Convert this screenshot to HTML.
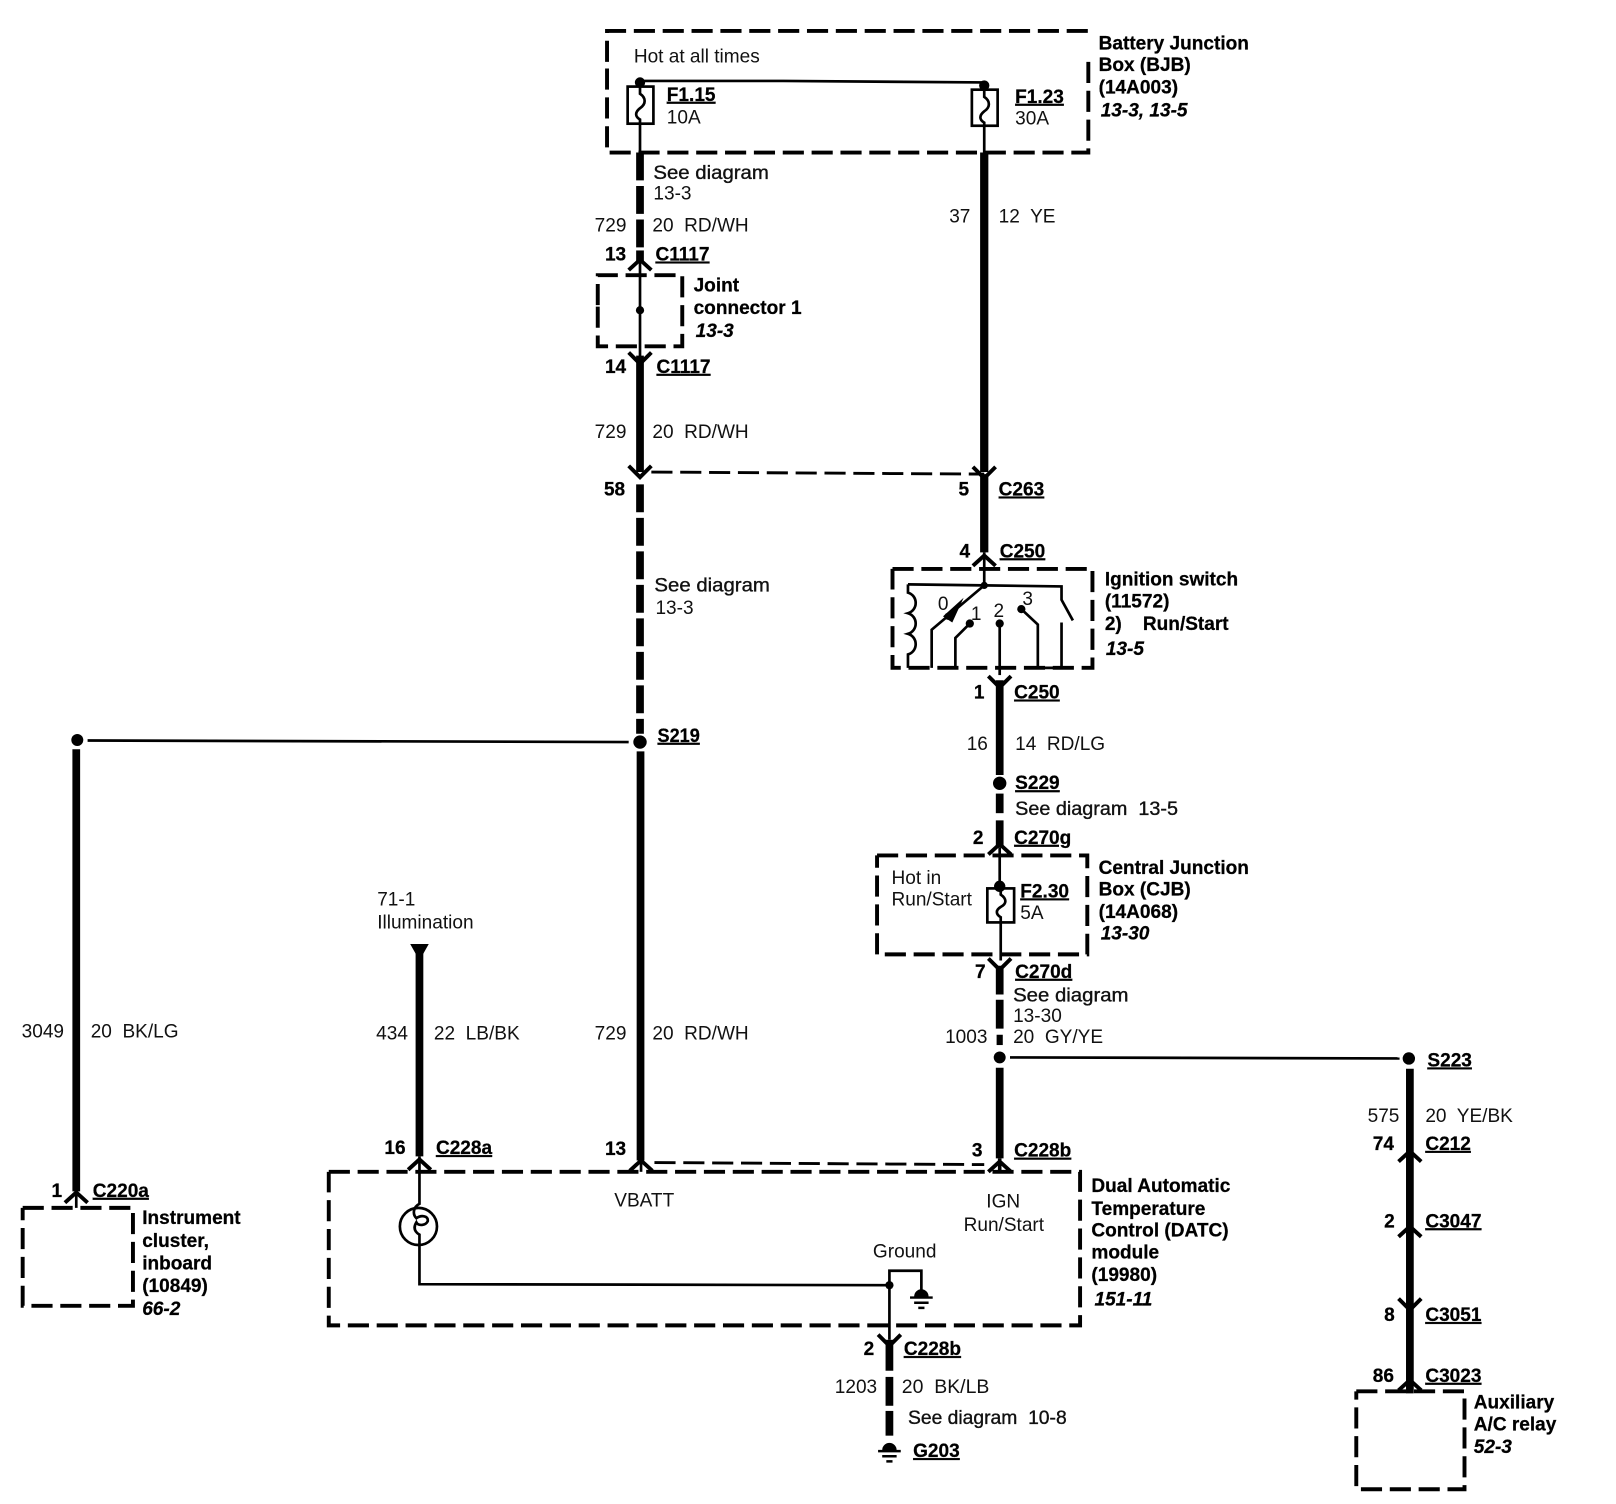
<!DOCTYPE html>
<html>
<head>
<meta charset="utf-8">
<style>
html,body{margin:0;padding:0;background:#fff;width:1616px;height:1504px;overflow:hidden}
svg{display:block}
text{font-family:"Liberation Sans",sans-serif;font-size:18.5px;fill:#111;white-space:pre}
.b{font-weight:bold;fill:#000;stroke:#000;stroke-width:.25}
.i{font-weight:bold;font-style:italic;fill:#000;stroke:#000;stroke-width:.25}
.u{font-weight:bold;fill:#000;stroke:#000;stroke-width:.25;text-decoration:underline}
.s{stroke:#111;stroke-width:.35}
.box{fill:none;stroke:#000;stroke-width:3.8;stroke-dasharray:20.5 7.5}
.thin{fill:none;stroke:#000;stroke-width:2.6}
.thick{fill:none;stroke:#000;stroke-width:7.5}
.dash{fill:none;stroke:#000;stroke-width:7.5;stroke-dasharray:27 5.5}
.td{fill:none;stroke:#000;stroke-width:2.8;stroke-dasharray:20.5 7.5}
.chev{fill:none;stroke:#000;stroke-width:3.8}
</style>
</head>
<body>
<svg xmlns="http://www.w3.org/2000/svg" width="1616" height="1504" viewBox="0 0 1568 1459.3">
<defs>
<path id="up" class="chev" d="M-11 8L0 -2L11 8"/>
<path id="dn" class="chev" d="M-11 -8L0 3L11 -8"/>
<g id="gnd"><path d="M-7 0a7 7 0 0 1 14 0z" fill="#000"/><path d="M-11 1H11M-7 6H7M-3 11H3" stroke="#000" stroke-width="2.4" fill="none"/></g>
</defs>
<rect width="1568" height="1460" fill="#fff"/>

<!-- boxes -->
<path class="box" d="M589 60V30H1056"/>
<path class="box" d="M1056 60V148H589V60"/>
<path class="box" d="M580 296V267H662V336H580V296"/>
<path class="box" d="M866 552H1060V648H866V552"/>
<path class="box" d="M851 830H1055V926H851V830"/>
<path class="box" d="M319 1137H1048V1286H319V1137"/>
<path class="box" d="M22 1172H129V1267H22V1172"/>
<path class="box" d="M1316 1350H1421V1445H1316V1350"/>

<!-- BJB internals -->
<path class="thin" d="M621 78.500L760 78.500L955 80"/>
<circle cx="621" cy="80" r="5" fill="#000"/>
<circle cx="955" cy="83" r="5" fill="#000"/>
<rect x="609" y="84" width="25" height="36" class="thin"/>
<rect x="943" y="87" width="25" height="35" class="thin"/>
<path class="thin" d="M621 84V91c6 4 6 10 0 14c-5 4 -5 8 0 11V148"/>
<path class="thin" d="M955 87V94c6 4 6 10 0 14c-5 4 -5 8 0 11V148"/>

<!-- left-centre wire -->
<path class="dash" d="M621 148V243"/>
<path class="thick" d="M621 243V254"/>
<use href="#up" x="621" y="254"/>
<path class="thin" d="M621 254V348"/>
<circle cx="621" cy="301" r="4" fill="#000"/>
<use href="#dn" x="621" y="350"/>
<path class="thick" d="M621 345V458"/>
<use href="#dn" x="621" y="460"/>
<path class="td" d="M632 458L955 460"/>
<path class="dash" d="M621 470V712"/>
<circle cx="621" cy="720" r="6.500" fill="#000"/>
<path class="thick" d="M621.500 729V1126"/>
<use href="#up" x="622" y="1128"/>
<path class="thin" d="M622 1126V1137"/>
<path class="td" d="M635 1128L955 1130"/>

<!-- S219 branch -->
<circle cx="75" cy="718" r="5.800" fill="#000"/>
<path class="thin" d="M85 718.500L610 720"/>
<path class="thick" d="M74 727V1156"/>
<use href="#up" x="74" y="1159"/>
<path class="thin" d="M74 1156V1172" stroke-width="3"/>

<!-- right main wire -->
<path class="thick" style="stroke-width:8" d="M955 148V458"/>
<use href="#dn" x="955" y="461"/>
<path class="thick" style="stroke-width:8" d="M955 460V536"/>
<use href="#up" x="955" y="541"/>
<path class="thin" d="M955 536V568"/>

<!-- ignition switch -->
<circle cx="955" cy="568" r="3.500" fill="#000"/>
<path class="thin" d="M881 567L955 568L1030 569V582L1041 602"/>
<path class="thin" d="M881 567c0 4 0 6 0 8c10 3 10 17 0 20c10 3 10 17 0 20c10 3 10 17 0 20V648"/>
<path class="thin" d="M955 568L904 611V648"/>
<path d="M935 580L915 598L924 604z" fill="#000"/>
<circle cx="920" cy="598" r="3.500" fill="#000"/>
<circle cx="941" cy="605" r="4" fill="#000"/>
<path class="thin" d="M941 605L927 619V648"/>
<circle cx="970" cy="605" r="4" fill="#000"/>
<path class="thin" d="M970 605V655"/>
<circle cx="991" cy="591" r="4" fill="#000"/>
<path class="thin" d="M991 591L1007 606V648H1030V604"/>
<use href="#dn" x="970" y="664"/>
<path class="thick" d="M970 660V752"/>
<circle cx="970" cy="760" r="6.500" fill="#000"/>
<path class="thick" d="M970 770V789"/>
<path class="thick" d="M970 796V822"/>
<use href="#up" x="970" y="821"/>
<path class="thin" d="M970 822V858"/>
<circle cx="970" cy="860" r="5.500" fill="#000"/>
<rect x="958" y="862" width="26" height="33" class="thin"/>
<path class="thin" d="M971 862V868c6 4 6 9 0 12c-5 3 -5 7 0 10V932"/>
<use href="#dn" x="970" y="938"/>
<path class="thick" d="M970 937V965"/>
<path class="thick" d="M970 970V998"/>
<path class="thick" style="stroke-width:6" d="M970 1004V1014"/>
<circle cx="970" cy="1026" r="5.800" fill="#000"/>
<path class="thin" d="M980 1026L1358 1027"/>
<path class="thick" d="M970 1036V1124"/>
<use href="#up" x="970" y="1129"/>
<path class="thin" style="stroke-width:3.500" d="M970 1124V1137"/>

<!-- S223 branch -->
<circle cx="1367" cy="1027" r="6" fill="#000"/>
<path class="thick" d="M1368 1037V1352"/>
<use href="#up" x="1368" y="1119"/>
<use href="#up" x="1368" y="1192"/>
<use href="#dn" x="1368" y="1268"/>
<use href="#up" x="1368" y="1341"/>

<!-- illumination wire -->
<path d="M398 916H416L407 932z" fill="#000"/>
<path class="thick" d="M407 925V1122"/>
<use href="#up" x="407" y="1127"/>
<circle cx="406" cy="1190" r="18" class="thin"/>
<path class="thin" d="M407 1122V1168c-6 3 -7 10 -3 14c4 -3 12 -3 11 3c-2 4 -9 5 -11 1c-3 5 -2 9 3 12V1246L863 1247"/>
<circle cx="863" cy="1247" r="4" fill="#000"/>
<path class="thin" d="M863 1300V1233H894V1252"/>
<use href="#gnd" x="894" y="1258"/>
<use href="#dn" x="863" y="1303"/>
<path class="thick" d="M863 1300V1330"/>
<path class="thick" d="M863 1336V1364"/>
<path class="thick" d="M863 1369V1393"/>
<use href="#gnd" x="863" y="1407"/>

<!-- text -->
<g transform="translate(0,.8)">
<text x="615" y="60">Hot at all times</text>
<text x="647" y="97" class="u">F1.15</text>
<text x="647" y="119">10A</text>
<text x="985" y="99" class="u">F1.23</text>
<text x="985" y="120">30A</text>
<text x="1066" y="47" class="b">Battery Junction</text>
<text x="1066" y="68" class="b">Box (BJB)</text>
<text x="1066" y="90" class="b">(14A003)</text>
<text x="1068" y="112" class="i">13-3, 13-5</text>

<text x="634" y="173" class="s" textLength="112" lengthAdjust="spacingAndGlyphs">See diagram</text>
<text x="634" y="193">13-3</text>
<text x="577" y="224">729</text>
<text x="633" y="224">20  RD/WH</text>
<text x="587" y="252" class="b">13</text>
<text x="636" y="252" class="u">C1117</text>
<text x="921" y="215">37</text>
<text x="969" y="215">12  YE</text>
<text x="673" y="282" class="b">Joint</text>
<text x="673" y="304" class="b">connector 1</text>
<text x="675" y="326" class="i">13-3</text>
<text x="587" y="361" class="b">14</text>
<text x="637" y="361" class="u">C1117</text>
<text x="577" y="424">729</text>
<text x="633" y="424">20  RD/WH</text>
<text x="586" y="480" class="b">58</text>
<text x="930" y="480" class="b">5</text>
<text x="969" y="480" class="u">C263</text>
<text x="931" y="540" class="b">4</text>
<text x="970" y="540" class="u">C250</text>
<text x="635" y="573" class="s" textLength="112" lengthAdjust="spacingAndGlyphs">See diagram</text>
<text x="636" y="595">13-3</text>
<text x="638" y="719" class="u" textLength="41" lengthAdjust="spacingAndGlyphs">S219</text>

<text x="1072" y="567.500" class="b">Ignition switch</text>
<text x="1072" y="588.500" class="b">(11572)</text>
<text x="1072" y="610.500" class="b">2)    Run/Start</text>
<text x="1073" y="634.500" class="i">13-5</text>
<text x="910" y="591">0</text>
<text x="942" y="601">1</text>
<text x="964" y="598">2</text>
<text x="992" y="586">3</text>

<text x="945" y="677" class="b">1</text>
<text x="984" y="677" class="u">C250</text>
<text x="938" y="727">16</text>
<text x="985" y="727">14  RD/LG</text>
<text x="985" y="765" class="u">S229</text>
<text x="985" y="790" class="s" textLength="158" lengthAdjust="spacingAndGlyphs">See diagram  13-5</text>
<text x="944" y="818" class="b">2</text>
<text x="984" y="818" class="u">C270g</text>
<text x="865" y="857">Hot in</text>
<text x="865" y="878">Run/Start</text>
<text x="990" y="870" class="u">F2.30</text>
<text x="990" y="891">5A</text>
<text x="1066" y="847" class="b">Central Junction</text>
<text x="1066" y="868" class="b">Box (CJB)</text>
<text x="1066" y="890" class="b">(14A068)</text>
<text x="1068" y="911" class="i">13-30</text>
<text x="946" y="948" class="b">7</text>
<text x="985" y="948" class="u">C270d</text>
<text x="983" y="971" class="s" textLength="112" lengthAdjust="spacingAndGlyphs">See diagram</text>
<text x="983" y="991">13-30</text>
<text x="917" y="1011">1003</text>
<text x="983" y="1011">20  GY/YE</text>

<text x="1385" y="1034" class="u">S223</text>
<text x="1327" y="1088">575</text>
<text x="1383" y="1088">20  YE/BK</text>
<text x="1332" y="1115" class="b">74</text>
<text x="1383" y="1115" class="u">C212</text>
<text x="1343" y="1190" class="b">2</text>
<text x="1383" y="1190" class="u">C3047</text>
<text x="1343" y="1281" class="b">8</text>
<text x="1383" y="1281" class="u">C3051</text>
<text x="1332" y="1340" class="b">86</text>
<text x="1383" y="1340" class="u">C3023</text>
<text x="1430" y="1366" class="b">Auxiliary</text>
<text x="1430" y="1387" class="b">A/C relay</text>
<text x="1430" y="1409" class="i">52-3</text>

<text x="366" y="878">71-1</text>
<text x="366" y="900">Illumination</text>
<text x="365" y="1008">434</text>
<text x="421" y="1008">22  LB/BK</text>
<text x="577" y="1008">729</text>
<text x="633" y="1008">20  RD/WH</text>
<text x="21" y="1006">3049</text>
<text x="88" y="1006">20  BK/LG</text>
<text x="373" y="1119" class="b">16</text>
<text x="423" y="1119" class="u">C228a</text>
<text x="587" y="1120" class="b">13</text>
<text x="943" y="1121.500" class="b">3</text>
<text x="984" y="1121.500" class="u">C228b</text>
<text x="596" y="1170">VBATT</text>
<text x="957" y="1171">IGN</text>
<text x="935" y="1193.500">Run/Start</text>
<text x="847" y="1219.500">Ground</text>
<text x="1059" y="1156" class="b">Dual Automatic</text>
<text x="1059" y="1178" class="b">Temperature</text>
<text x="1059" y="1199" class="b">Control (DATC)</text>
<text x="1059" y="1220.500" class="b">module</text>
<text x="1059" y="1242" class="b">(19980)</text>
<text x="1062" y="1266" class="i">151-11</text>
<text x="838" y="1314" class="b">2</text>
<text x="877" y="1314" class="u">C228b</text>
<text x="810" y="1351">1203</text>
<text x="875" y="1351" textLength="85" lengthAdjust="spacingAndGlyphs">20  BK/LB</text>
<text x="881" y="1381" class="s" textLength="154" lengthAdjust="spacingAndGlyphs">See diagram  10-8</text>
<text x="886" y="1413" class="u">G203</text>
<text x="50" y="1160.500" class="b">1</text>
<text x="90" y="1160.500" class="u">C220a</text>
<text x="138" y="1187" class="b">Instrument</text>
<text x="138" y="1209" class="b">cluster,</text>
<text x="138" y="1231" class="b">inboard</text>
<text x="138" y="1253" class="b">(10849)</text>
<text x="138" y="1275" class="i">66-2</text>
</g>
</svg>
</body>
</html>
